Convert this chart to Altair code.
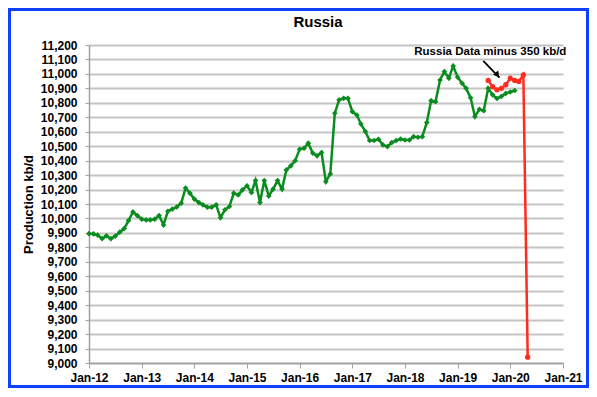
import altair as alt
import pandas as pd

# ---- data (kb/d, monthly) ----
green_start = "2012-01-01"
green_values = [
    9895, 9893, 9885, 9860, 9880, 9860, 9878, 9905, 9930, 9985, 10045,
    10020, 9995, 9990, 9990, 9995, 10020, 9955, 10050, 10065, 10080, 10105, 10210,
    10175, 10134, 10110, 10094, 10078, 10078, 10094, 10005, 10060, 10083,
    10175, 10163, 10198, 10226, 10180, 10262, 10110, 10262, 10156, 10203,
    10262, 10203, 10336, 10364, 10400, 10479, 10486, 10521, 10452, 10433,
    10456, 10255, 10308, 10728, 10820, 10831, 10831, 10739, 10716, 10654,
    10601, 10539, 10539, 10548, 10509, 10497, 10525, 10539, 10550, 10543,
    10543, 10566, 10562, 10566, 10663, 10815, 10808, 10958,
    11016, 10970, 11055, 10977, 10935, 10900, 10835, 10705, 10755, 10745,
    10900, 10855, 10830, 10845, 10865, 10875, 10885,
]
red_start = "2019-08-01"
red_values = [10955, 10912, 10890, 10900, 10925, 10970, 10955, 10948, 10993, 9040]

x_tick_years = list(range(2012, 2022))
y_ticks = list(range(9000, 11201, 100))
title_text = "Russia"
y_title = "Production kb/d"
note_text = "Russia Data minus 350 kb/d"
note_pos = ("2019-08-16", 11152)
arrow_from = ("2019-06-28", 11091)
arrow_to = ("2019-10-18", 10975)
arrow_head = ("2019-09-30", 10998)

GREEN = "#0a8c1e"
RED = "#ff2b1c"
BLUE = "#1040ff"
FONT = "Liberation Sans"

green_df = pd.DataFrame({
    "date": pd.date_range(green_start, periods=len(green_values), freq="MS"),
    "value": green_values,
})
red_df = pd.DataFrame({
    "date": pd.date_range(red_start, periods=len(red_values), freq="MS"),
    "value": red_values,
})
note_df = pd.DataFrame({"date": [pd.Timestamp(note_pos[0])], "value": [note_pos[1]], "text": [note_text]})
arrow_df = pd.DataFrame({
    "date": [pd.Timestamp(arrow_from[0])], "value": [arrow_from[1]],
    "date2": [pd.Timestamp(arrow_to[0])], "value2": [arrow_to[1]],
})
head_df = pd.DataFrame({"date": [pd.Timestamp(arrow_head[0])], "value": [arrow_head[1]]})
title_df = pd.DataFrame({"text": [title_text]})

x_scale = alt.Scale(domain=[alt.DateTime(year=2012, month=1, date=1),
                            alt.DateTime(year=2021, month=1, date=1)])
x_axis = alt.Axis(
    values=[alt.DateTime(year=y, month=1, date=1) for y in x_tick_years],
    format="%b-%y", title=None, grid=False, tickSize=5, labelPadding=4,
    labelOverlap=False, labelFlush=False,
    domainColor="#a0a0a0", tickColor="#a0a0a0", domainWidth=1.5,
)
y_scale = alt.Scale(domain=[9000, 11200], nice=False, zero=False)
y_axis = alt.Axis(
    values=y_ticks, format=",.0f", title=y_title, grid=True, tickSize=4,
    labelPadding=8, titlePadding=5, labelOverlap=False,
    domainColor="#a0a0a0", tickColor="#a0a0a0", domainWidth=1.5,
)


def xe(field="date"):
    return alt.X(f"{field}:T", scale=x_scale, axis=x_axis)


def ye(field="value"):
    return alt.Y(f"{field}:Q", scale=y_scale, axis=y_axis)


green = alt.Chart(green_df).mark_line(
    color=GREEN, strokeWidth=2.5,
    point=alt.OverlayMarkDef(shape="diamond", size=32, filled=True, color=GREEN),
).encode(x=xe(), y=ye())

red = alt.Chart(red_df).mark_line(
    color=RED, strokeWidth=2.5,
    point=alt.OverlayMarkDef(shape="circle", size=28, filled=True, color=RED),
).encode(x=xe(), y=ye())

note = alt.Chart(note_df).mark_text(
    font=FONT, fontSize=11.5, fontWeight="bold", color="black",
    align="center", baseline="middle",
).encode(x=xe(), y=ye(), text="text:N")

arrow = alt.Chart(arrow_df).mark_rule(color="black", strokeWidth=1.8).encode(
    x=xe(), y=ye(), x2="date2:T", y2="value2:Q"
)
head = alt.Chart(head_df).mark_point(
    shape="triangle", filled=True, color="black", size=45, angle=140, opacity=1
).encode(x=xe(), y=ye())

title = alt.Chart(title_df).mark_text(
    font=FONT, fontSize=15, fontWeight="bold", color="black",
    align="center", baseline="middle",
).encode(text="text:N", x=alt.value(229), y=alt.value(-23))

frame = alt.Chart(pd.DataFrame({"k": [0]})).mark_rect(
    fill="transparent", stroke=BLUE, strokeWidth=3
).encode(x=alt.value(-79.5), x2=alt.value(498.5), y=alt.value(-35.5), y2=alt.value(341.5))

chart = alt.layer(green, red, arrow, head, note, title, frame).properties(
    width=474,
    height=318,
    padding={"left": 81, "top": 37, "right": 26, "bottom": 25},
    autosize=alt.AutoSizeParams(type="none"),
    background="white",
).configure_view(strokeWidth=0).configure_axis(
    labelFont=FONT, labelFontSize=12, labelFontWeight="bold", labelColor="black",
    titleFont=FONT, titleFontSize=13, titleFontWeight="bold", titleColor="black",
    gridColor="#c4c4c4", gridWidth=2,
)

chart.save("out.html", embed_options={"renderer": "svg", "actions": False})
